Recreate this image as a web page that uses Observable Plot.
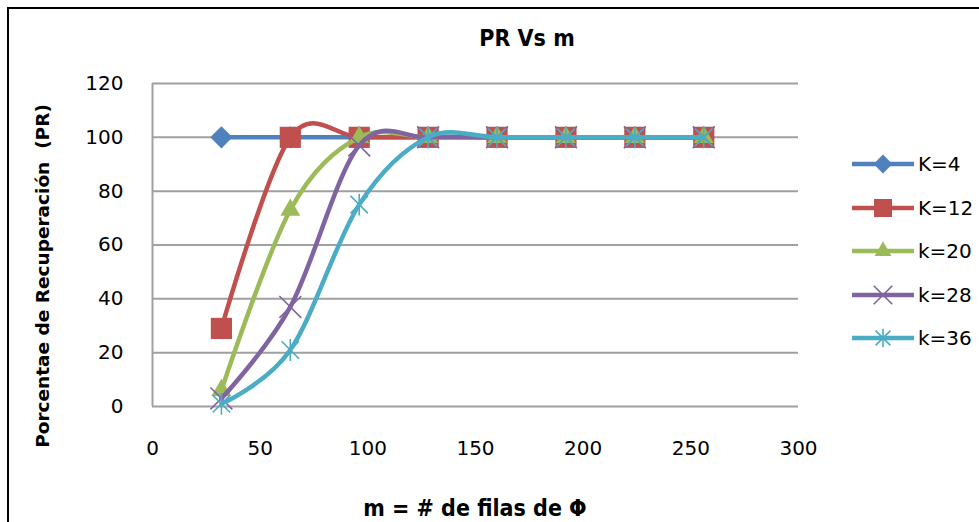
<!DOCTYPE html>
<html><head><meta charset="utf-8">
<script src="https://cdn.jsdelivr.net/npm/d3@7"></script>
<script src="https://cdn.jsdelivr.net/npm/@observablehq/plot@0.6"></script>
<style>
body{margin:0;background:#fff}
#wrap{position:relative;width:979px;height:522px;overflow:hidden;background:#fff;font-family:"DejaVu Sans",Verdana,sans-serif}
#frame{position:absolute;left:7px;top:7px;width:1200px;height:1200px;border:2px solid #000;box-sizing:border-box}
#chart{position:absolute;left:0;top:0}
.cond{font-family:"Liberation Sans Narrow","DejaVu Sans Condensed","Open Sans",sans-serif;font-stretch:condensed;font-weight:bold;color:#000}
#title{position:absolute;left:527px;top:38px;transform:translate(-50%,-50%);font-size:23px;white-space:nowrap}
#xlabel{position:absolute;left:475px;top:508px;transform:translate(-50%,-50%);font-size:23px;white-space:nowrap}
#ylabel{position:absolute;left:42px;top:276px;transform:translate(-50%,-50%) rotate(-90deg);font-size:18.5px;font-weight:bold;white-space:nowrap;font-family:"DejaVu Sans",Verdana,sans-serif}
.leg{position:absolute;left:852px;height:22px;display:flex;align-items:center;font-size:20px;white-space:nowrap;color:#000}
.leg svg{margin-right:4px}
</style></head><body>
<div id="wrap">
  <div id="frame"></div>
  <div id="chart"></div>
  <div id="title" class="cond">PR Vs m</div>
  <div id="xlabel" class="cond">m = # de filas de Φ</div>
  <div id="ylabel">Porcentae de Recuperación&nbsp;&nbsp;(PR)</div>
  <div id="legend"></div>
</div>
<script>
// ---- data ----
const m = [32, 64, 96, 128, 160, 192, 224, 256];
const seriesNames = ["K=4", "K=12", "k=20", "k=28", "k=36"];
const prK4  = [100, 100, 100, 100, 100, 100, 100, 100];
const prK12 = [29, 100, 100, 100, 100, 100, 100, 100];
const prK20 = [6, 73, 100, 100, 100, 100, 100, 100];
const prK28 = [3, 37, 97, 100, 100, 100, 100, 100];
const prK36 = [1, 21, 75, 100, 100, 100, 100, 100];
const xTicks = [0, 50, 100, 150, 200, 250, 300];
const yTicks = [0, 20, 40, 60, 80, 100, 120];

const seriesValues = [prK4, prK12, prK20, prK28, prK36];
const colors = ["#4F81BD", "#C0504D", "#9BBB59", "#8064A2", "#4BACC6"];

// Excel-like star marker: vertical line plus an X
const excelStar = {
  draw(context, size) {
    const r = Math.sqrt(size) * 0.56;
    const d = r * 0.8;
    context.moveTo(0, -r); context.lineTo(0, r);
    context.moveTo(-d, -d); context.lineTo(d, d);
    context.moveTo(-d, d); context.lineTo(d, -d);
  }
};
const markers = [
  {symbol: "diamond2", r: 10, filled: true},
  {symbol: "square2", r: 13.5, filled: true},
  {symbol: "triangle2", r: 9.5, filled: true},
  {symbol: "times", r: 10, filled: false},
  {symbol: excelStar, r: 11, filled: false}
];

const rowsBySeries = seriesNames.map((name, i) =>
  m.map((x, j) => ({series: name, m: x, pr: seriesValues[i][j]})));

const marks = [
  Plot.gridY(yTicks, {stroke: "#a0a0a0", strokeOpacity: 1, strokeWidth: 2}),
  Plot.ruleX([0], {stroke: "#a0a0a0", strokeWidth: 2}),
  Plot.axisY(yTicks, {tickSize: 0, tickPadding: 29, fontSize: 20, fill: "#000", label: null}),
  Plot.axisX(xTicks, {tickSize: 0, tickPadding: 34, fontSize: 20, fill: "#000", label: null})
];
rowsBySeries.forEach((rows, i) => {
  const mk = markers[i];
  marks.push(Plot.line(rows, {x: "m", y: "pr", stroke: colors[i], strokeWidth: 4.5, curve: "cardinal", tension: 0}));
  marks.push(Plot.dot(rows, mk.filled
    ? {x: "m", y: "pr", symbol: mk.symbol, r: mk.r, fill: colors[i], stroke: "none"}
    : {x: "m", y: "pr", symbol: mk.symbol, r: mk.r, fill: "none", stroke: colors[i], strokeWidth: 1.6}));
});

const chart = Plot.plot({
  width: 979,
  height: 470,
  marginLeft: 152,
  marginRight: 181,
  marginTop: 83,
  marginBottom: 64,
  style: {fontFamily: "'DejaVu Sans', Verdana, sans-serif", background: "transparent"},
  x: {domain: [0, 300]},
  y: {domain: [0, 120]},
  marks
});
document.getElementById("chart").appendChild(chart);

// ---- legend ----
const legend = document.getElementById("legend");
seriesNames.forEach((name, i) => {
  const row = document.createElement("div");
  row.className = "leg";
  row.style.top = (164 + i * 43.5 - 11) + "px";
  const svg = d3.create("svg").attr("width", 62).attr("height", 22);
  svg.append("line").attr("x1", 0).attr("x2", 62).attr("y1", 11).attr("y2", 11)
    .attr("stroke", colors[i]).attr("stroke-width", 4.5);
  const mk = markers[i];
  const symType = typeof mk.symbol === "string"
    ? {diamond2: d3.symbolDiamond2, square2: d3.symbolSquare2, triangle2: d3.symbolTriangle2, times: d3.symbolTimes}[mk.symbol]
    : mk.symbol;
  const rr = mk.r * 0.85;
  const p = svg.append("path").attr("transform", "translate(31,11)")
    .attr("d", d3.symbol(symType, rr * rr * Math.PI)());
  if (mk.filled) p.attr("fill", colors[i]);
  else p.attr("fill", "none").attr("stroke", colors[i]).attr("stroke-width", 1.6);
  row.appendChild(svg.node());
  const t = document.createElement("span");
  t.textContent = name;
  row.appendChild(t);
  legend.appendChild(row);
});
</script>
</body></html>
